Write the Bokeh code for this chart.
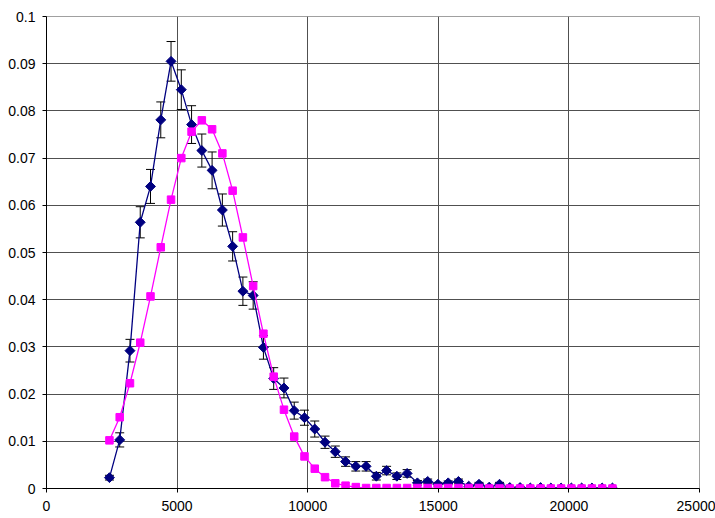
import math
from bokeh.plotting import figure
from bokeh.models import Range1d, Whisker, TeeHead, ColumnDataSource, NumeralTickFormatter, FixedTicker
from bokeh.embed import file_html
from bokeh.resources import INLINE

x_values = [2410, 2803, 3196, 3589, 3982, 4375, 4768, 5161, 5554, 5947,
            6340, 6733, 7126, 7519, 7912, 8305, 8698, 9091, 9484, 9877,
            10270, 10663, 11056, 11449, 11842, 12235, 12628, 13021, 13414, 13807,
            14200, 14593, 14986, 15379, 15772, 16165, 16558, 16951, 17344, 17737,
            18130, 18523, 18916, 19309, 19702, 20095, 20488, 20881, 21274, 21667]

blue_values = [0.0023, 0.0103, 0.0292, 0.0564, 0.0640, 0.0781, 0.0905, 0.0845, 0.0771, 0.0716,
               0.0674, 0.0590, 0.0513, 0.0418, 0.0409, 0.0299, 0.0233, 0.0213, 0.0165, 0.0150,
               0.0126, 0.0098, 0.0078, 0.0057, 0.0047, 0.0047, 0.0026, 0.0038, 0.0026, 0.0032,
               0.0012, 0.0015, 0.0009, 0.0012, 0.0015, 0.0005, 0.0009, 0.0003, 0.0009, 0.0002,
               0.0002, 0.0001, 0.0002, 0.0001, 0.0001, 0.0001, 0.0001, 0.0001, 0.0001, 0.0001]

blue_errors = [0.0005, 0.0015, 0.0024, 0.0033, 0.0036, 0.0038, 0.0042, 0.0042, 0.0040, 0.0035,
               0.0039, 0.0034, 0.0031, 0.0030, 0.0029, 0.0025, 0.0023, 0.0021, 0.0018, 0.0016,
               0.0017, 0.0013, 0.0012, 0.0010, 0.0010, 0.0010, 0.0008, 0.0009, 0.0007, 0.0008,
               0.0005, 0.0005, 0.0004, 0.0004, 0.0005, 0.0003, 0.0004, 0.0002, 0.0004, 0.0002,
               0.0002, 0.0001, 0.0002, 0.0001, 0.0001, 0.0001, 0.0001, 0.0001, 0.0001, 0.0001]

magenta_values = [0.0102, 0.0151, 0.0223, 0.0309, 0.0407, 0.0511, 0.0612, 0.0700, 0.0756, 0.0780,
                  0.0761, 0.0710, 0.0631, 0.0532, 0.0429, 0.0328, 0.0237, 0.0167, 0.0110, 0.0068,
                  0.0042, 0.0024, 0.0011, 0.0006, 0.0003, 0.0001, 0.0001, 0.0001, 0.0001, 0.0001,
                  0.0001, 0.0001, 0.0001, 0.0001, 0.0001, 0.0001, 0.0001, 0.0000, 0.0000, 0.0000,
                  0.0000, 0.0000, 0.0000, 0.0000, 0.0000, 0.0000, 0.0000, 0.0000, 0.0000, 0.0000]

x_ticks = [0, 5000, 10000, 15000, 20000, 25000]
y_ticks = [0, 0.01, 0.02, 0.03, 0.04, 0.05, 0.06, 0.07, 0.08, 0.09, 0.1]

src_b = ColumnDataSource(dict(
    x=x_values, y=blue_values,
    lo=[v - e for v, e in zip(blue_values, blue_errors)],
    hi=[v + e for v, e in zip(blue_values, blue_errors)],
))
src_m = ColumnDataSource(dict(x=x_values, y=magenta_values))

p = figure(width=715, height=518, output_backend="svg", toolbar_location=None,
           x_range=Range1d(0, 25000), y_range=Range1d(0, 0.1),
           min_border_left=46, min_border_right=16, min_border_top=16, min_border_bottom=30)
p.background_fill_color = "white"
p.border_fill_color = "white"
p.outline_line_color = "#a0a0a0"

for ax in (p.xaxis[0], p.yaxis[0]):
    ax.axis_line_color = "black"
    ax.major_tick_line_color = "black"
    ax.major_tick_out = 4
    ax.major_tick_in = 0
    ax.minor_tick_line_color = None
    ax.major_label_text_font = "Liberation Sans"
    ax.major_label_text_font_size = "14px"
    ax.major_label_text_color = "black"

p.xaxis[0].ticker = FixedTicker(ticks=x_ticks)
p.yaxis[0].ticker = FixedTicker(ticks=y_ticks)
p.xaxis[0].formatter = NumeralTickFormatter(format="0")
p.yaxis[0].formatter = NumeralTickFormatter(format="0.[00]")
p.xaxis[0].major_label_standoff = 8
p.yaxis[0].major_label_standoff = 7

p.xgrid.ticker = FixedTicker(ticks=x_ticks)
p.ygrid.ticker = FixedTicker(ticks=y_ticks)
p.xgrid.grid_line_color = "#505050"
p.ygrid.grid_line_color = "#505050"
p.xgrid.grid_line_width = 1
p.ygrid.grid_line_width = 1

wh = Whisker(source=src_b, base="x", lower="lo", upper="hi",
             line_color="black", line_width=1,
             upper_head=TeeHead(size=9, line_color="black", line_width=1),
             lower_head=TeeHead(size=9, line_color="black", line_width=1))
p.add_layout(wh)

p.line("x", "y", source=src_b, line_color="#000080", line_width=1.3)
p.scatter("x", "y", source=src_b, marker="square", angle=math.pi / 4, size=7,
          fill_color="#000080", line_color="#000080")

p.line("x", "y", source=src_m, line_color="#FF00FF", line_width=1.3)
p.scatter("x", "y", source=src_m, marker="square", size=7.5,
          fill_color="#FF00FF", line_color="#FF00FF")

open("out.html", "w").write(file_html(p, INLINE))
